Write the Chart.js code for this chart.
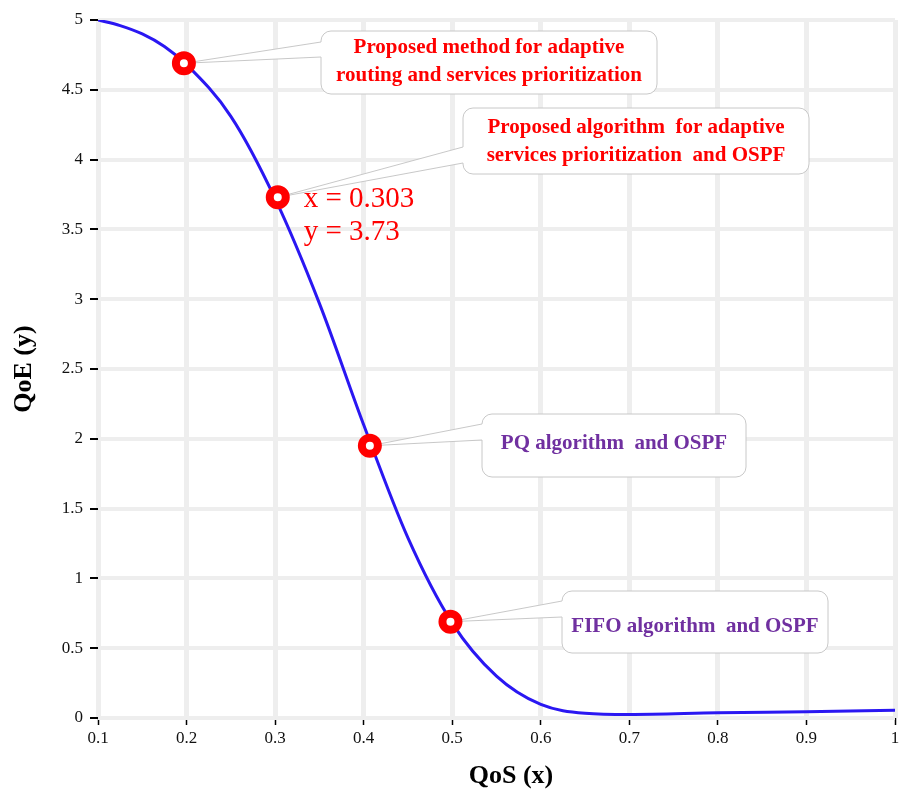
<!DOCTYPE html>
<html>
<head>
<meta charset="utf-8">
<script src="https://cdn.jsdelivr.net/npm/chart.js@4.4.1/dist/chart.umd.min.js"></script>
<style>
  html, body { margin: 0; padding: 0; background: #ffffff; }
  #wrap { width: 919px; height: 806px; }
</style>
</head>
<body>
<div id="wrap"><canvas id="qoeChart" width="919" height="806"></canvas></div>
<script>
// QoS -> QoE curve
const qosX = [0.1, 0.125, 0.15, 0.175, 0.2, 0.25, 0.3, 0.35, 0.4, 0.45, 0.5, 0.55, 0.6, 0.65, 0.7, 0.8, 0.9, 1.0];
const qoeY = [5.0, 4.96, 4.90, 4.81, 4.68, 4.31, 3.72, 2.97, 2.10, 1.29, 0.68, 0.30, 0.097, 0.034, 0.025, 0.037, 0.045, 0.055];

// marked methods
const markX = [0.197, 0.303, 0.407, 0.498];
const markY = [4.69, 3.73, 1.95, 0.69];
const markLabels = [
    ['Proposed method for adaptive', 'routing and services prioritization'],
    ['Proposed algorithm  for adaptive', 'services prioritization  and OSPF'],
    ['PQ algorithm  and OSPF'],
    ['FIFO algorithm  and OSPF']
];

const xTicks = [0.1, 0.2, 0.3, 0.4, 0.5, 0.6, 0.7, 0.8, 0.9, 1];
const yTicks = [0, 0.5, 1, 1.5, 2, 2.5, 3, 3.5, 4, 4.5, 5];

const xTitle = 'QoS (x)';
const yTitle = 'QoE (y)';

const SERIF = "'Liberation Serif', 'Times New Roman', serif";
const RED = '#ff0000';
const PURPLE = '#7030a0';

// callout boxes (pixel layout only)
const boxes = [
    { x: 321, y: 31, w: 336, h: 63, j1: 42, j2: 57, base: [53, 81], color: RED },
    { x: 463, y: 108, w: 346, h: 66, j1: 147, j2: 163, base: [133, 161], color: RED },
    { x: 482, y: 414, w: 264, h: 63, j1: 424, j2: 440, base: [449], color: PURPLE },
    { x: 562, y: 591, w: 266, h: 62, j1: 601, j2: 617, base: [632], color: PURPLE }
];

function fmt(v) {
    return String(Number(v.toFixed(1)));
}

const calloutPlugin = {
    id: 'callouts',
    beforeDatasetsDraw(chart) {
        const ctx = chart.ctx;
        const xs = chart.scales.x;
        const ys = chart.scales.y;
        ctx.save();
        boxes.forEach((b, i) => {
            const tx = xs.getPixelForValue(markX[i]);
            const ty = ys.getPixelForValue(markY[i]);
            const r = 10;
            ctx.beginPath();
            ctx.moveTo(b.x + r, b.y);
            ctx.lineTo(b.x + b.w - r, b.y);
            ctx.arcTo(b.x + b.w, b.y, b.x + b.w, b.y + r, r);
            ctx.lineTo(b.x + b.w, b.y + b.h - r);
            ctx.arcTo(b.x + b.w, b.y + b.h, b.x + b.w - r, b.y + b.h, r);
            ctx.lineTo(b.x + r, b.y + b.h);
            ctx.arcTo(b.x, b.y + b.h, b.x, b.y + b.h - r, r);
            ctx.lineTo(b.x, b.j2);
            ctx.lineTo(tx, ty);
            ctx.lineTo(b.x, b.j1);
            ctx.lineTo(b.x, b.y + r);
            ctx.arcTo(b.x, b.y, b.x + r, b.y, r);
            ctx.closePath();
            ctx.fillStyle = '#ffffff';
            ctx.fill();
            ctx.strokeStyle = '#c8c8c8';
            ctx.lineWidth = 1;
            ctx.stroke();

            ctx.fillStyle = b.color;
            ctx.font = 'bold 21px ' + SERIF;
            ctx.textAlign = 'center';
            ctx.textBaseline = 'alphabetic';
            markLabels[i].forEach((line, k) => {
                ctx.fillText(line, b.x + b.w / 2, b.base[k]);
            });
        });
        ctx.restore();
    },
    afterDatasetsDraw(chart) {
        const ctx = chart.ctx;
        const px = chart.scales.x.getPixelForValue(markX[1]);
        const py = chart.scales.y.getPixelForValue(markY[1]);
        ctx.save();
        ctx.fillStyle = RED;
        ctx.font = '29px ' + SERIF;
        ctx.textAlign = 'left';
        ctx.textBaseline = 'alphabetic';
        ctx.fillText('x = ' + markX[1], px + 26, py + 10);
        ctx.fillText('y = ' + markY[1], px + 26, py + 43);

        // x axis title sits a little right of the plot centre in the original
        ctx.fillStyle = '#000000';
        ctx.font = 'bold 26px ' + SERIF;
        ctx.textAlign = 'center';
        ctx.fillText(xTitle, 511, 783);
        ctx.restore();
    }
};

new Chart(document.getElementById('qoeChart'), {
    type: 'line',
    data: {
        datasets: [
            {
                label: 'marks',
                data: markX.map((x, i) => ({ x: x, y: markY[i] })),
                showLine: false,
                pointRadius: 8,
                pointHoverRadius: 8,
                pointBorderWidth: 8,
                pointBorderColor: RED,
                pointBackgroundColor: '#ffffff',
                order: 0
            },
            {
                label: 'QoE',
                data: qosX.map((x, i) => ({ x: x, y: qoeY[i] })),
                borderColor: '#2a17f2',
                borderWidth: 3,
                pointRadius: 0,
                cubicInterpolationMode: 'monotone',
                fill: false,
                order: 1
            }
        ]
    },
    options: {
        responsive: false,
        devicePixelRatio: 1,
        animation: false,
        events: [],
        layout: { padding: { top: 20, right: 24, bottom: 0, left: 0 } },
        plugins: {
            legend: { display: false },
            tooltip: { enabled: false }
        },
        scales: {
            x: {
                type: 'linear',
                min: xTicks[0],
                max: xTicks[xTicks.length - 1],
                afterFit: s => { s.height = 88; },
                afterBuildTicks: s => { s.ticks = xTicks.map(v => ({ value: v })); },
                border: { display: false },
                grid: {
                    color: '#eeeeee',
                    lineWidth: 5,
                    tickColor: '#000000',
                    tickWidth: 1.5,
                    tickLength: 7
                },
                ticks: {
                    color: '#111111',
                    font: { family: SERIF, size: 17 },
                    padding: 3,
                    maxRotation: 0,
                    callback: v => fmt(v)
                },
                title: { display: false, text: xTitle }
            },
            y: {
                type: 'linear',
                min: yTicks[0],
                max: yTicks[yTicks.length - 1],
                afterFit: s => { s.width = 98; },
                afterBuildTicks: s => { s.ticks = yTicks.map(v => ({ value: v })); },
                border: { display: false },
                grid: {
                    color: '#eeeeee',
                    lineWidth: 4,
                    tickColor: '#000000',
                    tickWidth: 2,
                    tickLength: 8
                },
                ticks: {
                    color: '#111111',
                    font: { family: SERIF, size: 17 },
                    padding: 7,
                    callback: v => fmt(v)
                },
                title: {
                    display: true,
                    text: yTitle,
                    color: '#000000',
                    font: { family: SERIF, size: 26, weight: 'bold' },
                    padding: { top: 9, bottom: 0 }
                }
            }
        }
    },
    plugins: [calloutPlugin]
});
</script>
</body>
</html>
